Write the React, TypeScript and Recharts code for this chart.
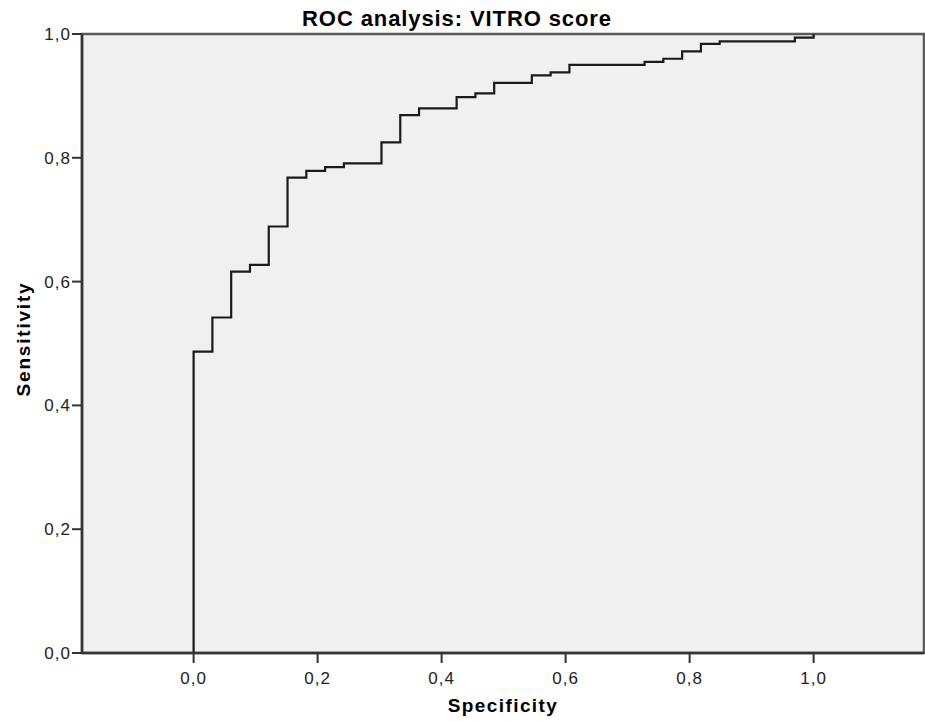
import { LineChart, Line, XAxis, YAxis, ReferenceArea } from 'recharts'

// 1 - specificity where the curve steps up, and the sensitivity it steps up to
const specificity = [0, 0, 0.0303, 0.0606, 0.0909, 0.1212, 0.1515, 0.1818, 0.2121, 0.2424, 0.303, 0.3333, 0.3636, 0.4242, 0.4545, 0.4848, 0.5455, 0.5758, 0.6061, 0.7273, 0.7576, 0.7879, 0.8182, 0.8485, 0.9697, 1.0]
const sensitivity = [0, 0.487, 0.542, 0.616, 0.627, 0.689, 0.768, 0.779, 0.785, 0.791, 0.825, 0.869, 0.88, 0.898, 0.904, 0.921, 0.933, 0.938, 0.95, 0.955, 0.96, 0.972, 0.984, 0.988, 0.994, 1.0]

const xTicks = [0, 0.2, 0.4, 0.6, 0.8, 1.0]
const yTicks = [0, 0.2, 0.4, 0.6, 0.8, 1.0]
const xDomain: [number, number] = [-0.18, 1.178]

const title = 'ROC analysis: VITRO score'
const aucLabel = 'AUC: 0.86'

const data = specificity.map((s, i) => ({ spec: s, sens: sensitivity[i] }))

const FONT = '"Liberation Sans", Arial, sans-serif'
const fmt = (v: number) => v.toFixed(1).replace('.', ',')

export default function App() {
  return (
    <div style={{ position: 'absolute', left: 0, top: 0, width: 925, height: 721, background: '#fff', fontFamily: FONT }}>
      <LineChart width={925} height={721} data={data} margin={{ top: 34, right: 1, bottom: 0, left: 0 }}>
        <ReferenceArea x1={xDomain[0]} x2={xDomain[1]} y1={0} y2={1} fill="#f0f0f0" fillOpacity={1} stroke="#5a5a5a" strokeWidth={2.5} />
        <XAxis
          dataKey="spec" type="number" domain={xDomain} ticks={xTicks} tickFormatter={fmt}
          height={68} tickSize={10} tickMargin={9} interval={0}
          axisLine={{ stroke: '#333', strokeWidth: 2.5 }} tickLine={{ stroke: '#333', strokeWidth: 2 }}
          tick={{ fontSize: 17, fill: '#222', fontFamily: FONT, letterSpacing: 1 }}
        />
        <YAxis
          type="number" domain={[0, 1]} ticks={yTicks} tickFormatter={fmt}
          width={82} tickSize={10} tickMargin={1} interval={0}
          axisLine={{ stroke: '#333', strokeWidth: 2.5 }} tickLine={{ stroke: '#333', strokeWidth: 2 }}
          tick={{ fontSize: 17, fill: '#222', fontFamily: FONT, letterSpacing: 1 }}
        />
        <Line dataKey="sens" type="stepAfter" stroke="#1a1a1a" strokeWidth={2.2} dot={false} isAnimationActive={false} />
        <text x={457} y={26} textAnchor="middle" fontSize={22} fontWeight="bold" fill="#000" fontFamily={FONT} letterSpacing={0.9}>{title}</text>
        <text x={503} y={712} textAnchor="middle" fontSize={19} fontWeight="bold" fill="#000" fontFamily={FONT} letterSpacing={1.4}>Specificity</text>
        <text x={30} y={339} transform="rotate(-90, 30, 339)" textAnchor="middle" fontSize={19} fontWeight="bold" fill="#000" fontFamily={FONT} letterSpacing={1.8}>Sensitivity</text>
        <text x={552} y={467} fontSize={19} fill="#333" fontFamily={FONT} letterSpacing={1.1}>{aucLabel}</text>
      </LineChart>
    </div>
  )
}
